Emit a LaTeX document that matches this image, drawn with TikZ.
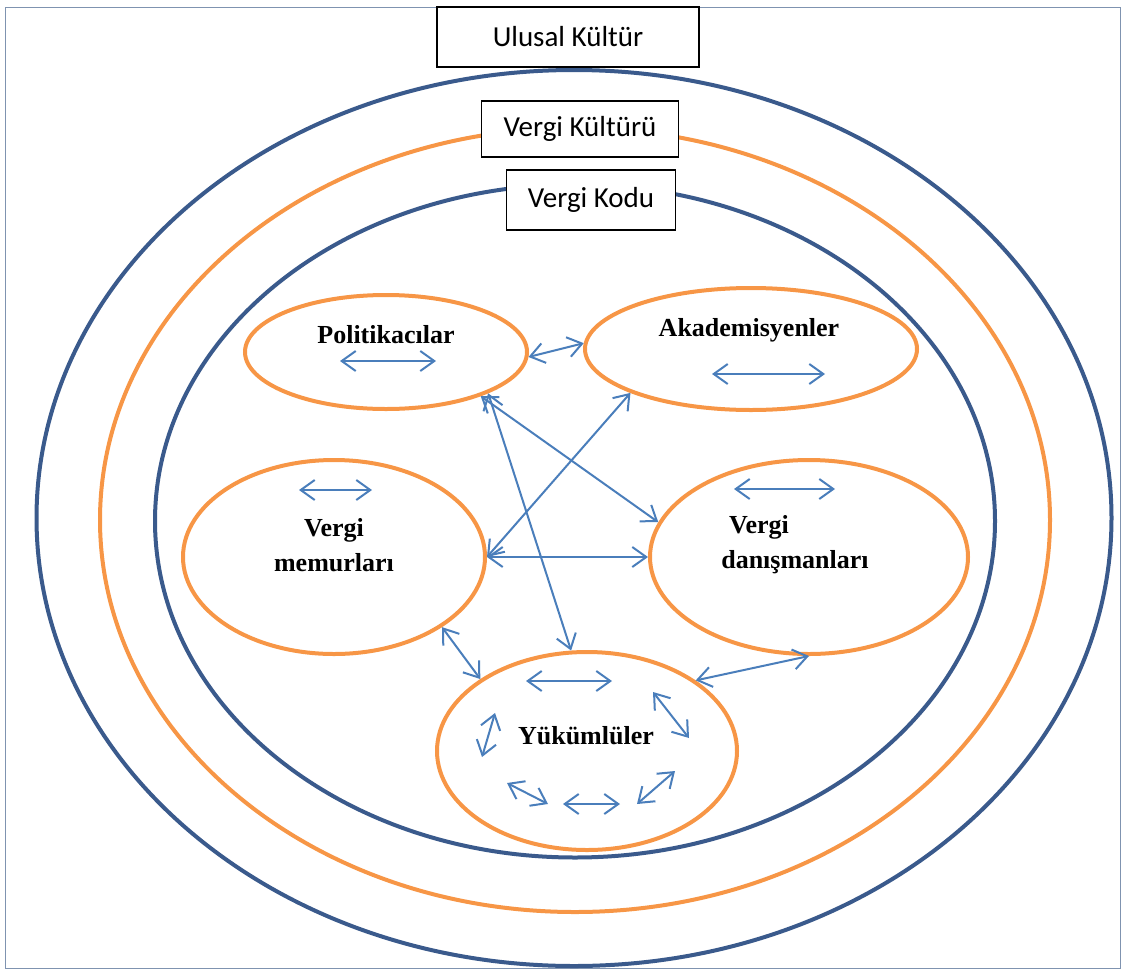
\documentclass[tikz,border=0pt]{standalone}
\usepackage{fontspec}
\setmainfont{Liberation Serif}
\newfontfamily\calibri{Carlito}
\usetikzlibrary{shapes.geometric, arrows.meta, positioning}
\definecolor{darkblue}{HTML}{3A5A8C}
\definecolor{lightorange}{HTML}{F79646}
\definecolor{linkblue}{HTML}{4A7EBB}
\definecolor{framegray}{HTML}{7F93B0}

\begin{document}
\begin{tikzpicture}[x=1pt, y=-1pt]
\tikzstyle{ring} = [ellipse, draw, line width=4pt, inner sep=0pt]
\tikzstyle{actor} = [ellipse, draw=lightorange, line width=4pt, inner sep=0pt]
\tikzstyle{levelbox} = [rectangle, draw=black, line width=1.3pt, fill=white, font=\calibri\fontsize{29}{34}\selectfont, inner sep=0pt]
\tikzstyle{actorname} = [font=\bfseries\fontsize{26}{35}\selectfont, align=center]
\tikzstyle{link} = [<->, >={Straight Barb[length=14pt,width=20pt]}, draw=linkblue, line width=2pt]

\useasboundingbox (0,0) rectangle (1121,972);
\draw[framegray, line width=1pt] (5,7) rectangle (1120,968);

% culture levels
\node (ulusal) [ring, draw=darkblue, minimum width=1075pt, minimum height=896pt] at (574,518) {};
\node (kultur) [ring, draw=lightorange, minimum width=950pt, minimum height=784pt] at (575,520) {};
\node (kod) [ring, draw=darkblue, minimum width=840pt, minimum height=673pt] at (575,521) {};

\node (ulusalbox) [levelbox, minimum width=262pt, minimum height=60pt] at (568,37) {Ulusal Kültür};
\node (kulturbox) [levelbox, minimum width=197pt, minimum height=56pt] at (580,129) {Vergi Kültürü};
\node (kodbox) [levelbox, minimum width=169pt, minimum height=60pt] at (591,200) {Vergi Kodu};

% actors
\node (pol) [actor, minimum width=282pt, minimum height=114pt] at (386,352) {};
\node (aka) [actor, minimum width=332pt, minimum height=122pt] at (751,349) {};
\node (mem) [actor, minimum width=302pt, minimum height=194pt] at (334,557) {};
\node (dan) [actor, minimum width=318pt, minimum height=194pt] at (809,557) {};
\node (yuk) [actor, minimum width=300pt, minimum height=198pt] at (587,751) {};

\node (polname) [actorname] at (386,335) {Politikacılar};
\node (akaname) [actorname] at (749,330) {Akademisyenler};
\node (memname) [actorname] at (334,545) {Vergi\\memurları};
\node (danname1) [actorname] at (759,527) {Vergi};
\node (danname2) [actorname] at (795,562) {danışmanları};
\node (yukname) [actorname] at (586,736) {Yükümlüler};

% interaction within groups
\foreach \a/\b in {{(340,361)}/{(436,361)}, {(712,374)}/{(825,374)},
    {(299,490)}/{(372,490)}, {(734,489)}/{(835,489)},
    {(526,681)}/{(612,681)}, {(653,692)}/{(689,738)},
    {(495,713)}/{(482,757)}, {(507,783)}/{(548,804)},
    {(563,804)}/{(620,804)}, {(637,804)}/{(675,771)}}
  \draw[link] \a -- \b;

% interaction between groups
\draw[link] (pol.-2) -- (aka.178);
\draw[link] (pol.-22) -- (yuk.99);
\draw[link] (pol.-25) -- (dan.167);
\draw[link] (aka.-160) -- (mem.0);
\draw[link] (mem.0) -- (dan.180);
\draw[link] (mem.-33) -- (yuk.146);
\draw[link] (yuk.33) -- (dan.-90);

\end{tikzpicture}
\end{document}
